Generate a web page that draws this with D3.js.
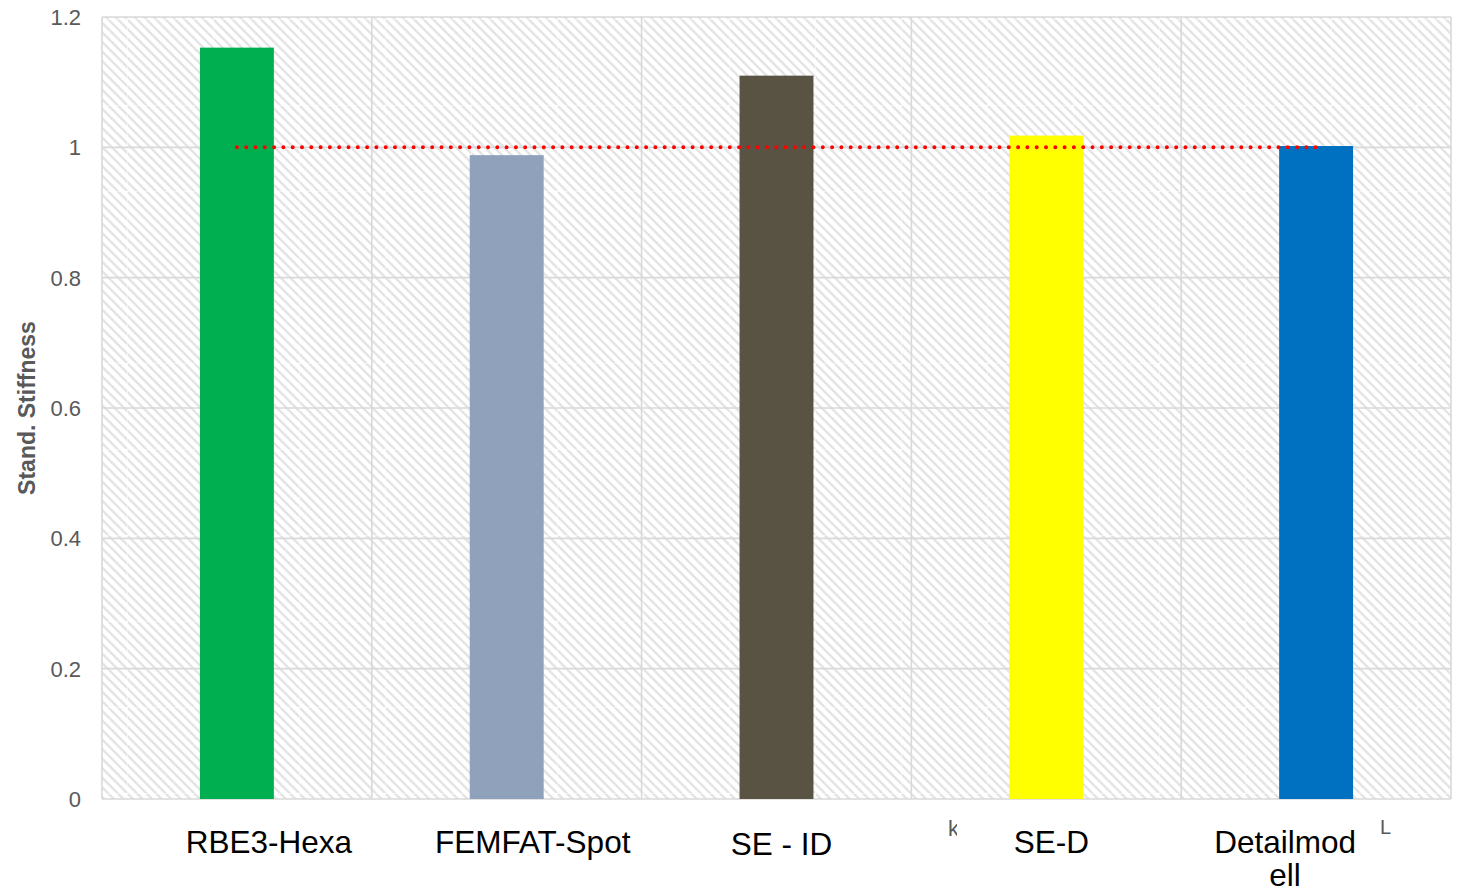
<!DOCTYPE html>
<html>
<head>
<meta charset="utf-8">
<script src="https://cdn.jsdelivr.net/npm/d3@7"></script>
<style>
  html, body { margin: 0; padding: 0; background: #ffffff; }
  svg { display: block; }
</style>
</head>
<body>
<svg id="chart" width="1461" height="893"></svg>
<script>
// Chart data
const categories = ["RBE3-Hexa", "FEMFAT-Spot", "SE - ID", "SE-D", "Detailmodell"];
const stiffness = [1.153, 0.988, 1.110, 1.018, 1.002];
const barColors = ["#00B050", "#8FA1BB", "#595343", "#FFFF00", "#0070C0"];
const referenceLevel = [1, 1, 1, 1, 1];
const yTicks = [0, 0.2, 0.4, 0.6, 0.8, 1, 1.2];
const yTickLabels = ["0", "0.2", "0.4", "0.6", "0.8", "1", "1.2"];
const yTitle = "Stand. Stiffness";

// Category labels: horizontal nudge and wrapped lines
const labelShift = [32, 26, 5, 5, -31];
const labelLines = [["RBE3-Hexa"], ["FEMFAT-Spot"], ["SE - ID"], ["SE-D"], ["Detailmod", "ell"]];
const labelDrop = [0, 0, 2, 0, 0];

const svg = d3.select("#chart");
const margin = { left: 102, right: 10, top: 17, bottom: 94 };
const W = 1461, H = 893;
const plotW = W - margin.left - margin.right;
const plotH = H - margin.top - margin.bottom;
const font = "'Liberation Sans', Arial, sans-serif";

const x = d3.scaleBand().domain(categories).range([0, plotW]).paddingInner(0.726).paddingOuter(0.363);
const band = d3.scaleBand().domain(categories).range([0, plotW]);
const y = d3.scaleLinear().domain([0, 1.2]).range([plotH, 0]);

// Diagonal hatch fill for the plot background
const defs = svg.append("defs");
const tile = 86, stripes = 9, step = tile / stripes;
const pat = defs.append("pattern")
  .attr("id", "hatch")
  .attr("patternUnits", "userSpaceOnUse")
  .attr("x", 25).attr("y", 2)
  .attr("width", tile).attr("height", tile);
pat.append("rect").attr("width", tile).attr("height", tile).attr("fill", "#ffffff");
let d = "";
for (let c = -tile; c <= tile; c += step) {
  d += `M${c - step},${-step}L${c + tile + step},${tile + step}`;
}
pat.append("path").attr("d", d).attr("stroke", "#e4e4e4").attr("stroke-width", 2.4).attr("fill", "none");
pat.append("rect").attr("x", 0).attr("y", 0).attr("width", tile).attr("height", 1).attr("fill", "#ffffff").attr("opacity", 0.5);
pat.append("rect").attr("x", 0).attr("y", 0).attr("width", 1).attr("height", tile).attr("fill", "#ffffff").attr("opacity", 0.5);

const g = svg.append("g").attr("transform", `translate(${margin.left},${margin.top})`);

g.append("rect")
  .attr("width", plotW).attr("height", plotH)
  .attr("fill", "url(#hatch)");

// Horizontal grid lines
g.append("g").selectAll("line").data(yTicks).join("line")
  .attr("x1", 0).attr("x2", plotW)
  .attr("y1", v => y(v)).attr("y2", v => y(v))
  .attr("stroke", "#d9d9d9").attr("stroke-width", 1.6);

// Vertical category dividers
const dividers = categories.map(c => band(c)).concat([plotW]);
g.append("g").selectAll("line").data(dividers).join("line")
  .attr("x1", v => v).attr("x2", v => v)
  .attr("y1", 0).attr("y2", plotH)
  .attr("stroke", "#d9d9d9").attr("stroke-width", 1.6);

// Bars
g.append("g").selectAll("rect").data(categories).join("rect")
  .attr("x", c => x(c))
  .attr("width", x.bandwidth())
  .attr("y", (c, i) => y(stiffness[i]))
  .attr("height", (c, i) => y(0) - y(stiffness[i]))
  .attr("fill", (c, i) => barColors[i]);

// Reference level (dotted red)
const line = d3.line()
  .x((v, i) => band(categories[i]) + band.bandwidth() / 2)
  .y(v => y(v));
g.append("path")
  .datum(referenceLevel)
  .attr("d", line)
  .attr("fill", "none")
  .attr("stroke", "#ff0000")
  .attr("stroke-width", 4)
  .attr("stroke-linecap", "round")
  .attr("stroke-dasharray", "0 9.3");

// Y axis tick labels
g.append("g").selectAll("text").data(yTicks).join("text")
  .attr("x", -21)
  .attr("y", v => y(v))
  .attr("dy", "0.36em")
  .attr("text-anchor", "end")
  .attr("font-family", font)
  .attr("font-size", 22)
  .attr("fill", "#595959")
  .text((v, i) => yTickLabels[i]);

// Y axis title
svg.append("text")
  .attr("transform", "translate(35,408) rotate(-90)")
  .attr("text-anchor", "middle")
  .attr("font-family", font)
  .attr("font-weight", "bold")
  .attr("font-size", 23)
  .attr("fill", "#595959")
  .text(yTitle);

// Category labels
const labels = svg.append("g")
  .attr("font-family", font)
  .attr("font-size", 31.5)
  .attr("fill", "#000000")
  .attr("text-anchor", "middle");
categories.forEach((c, i) => {
  const cx = margin.left + band(c) + band.bandwidth() / 2 + labelShift[i];
  const t = labels.append("text")
    .attr("x", cx)
    .attr("y", 853 + labelDrop[i]);
  labelLines[i].forEach((ln, k) => {
    t.append("tspan").attr("x", cx).attr("dy", k === 0 ? 0 : 33).text(ln);
  });
});

// Small stray glyphs beside the labels
defs.append("clipPath").attr("id", "kclip")
  .append("rect").attr("x", 940).attr("y", 810).attr("width", 17).attr("height", 30);
svg.append("text")
  .attr("x", 948).attr("y", 836)
  .attr("font-family", font).attr("font-size", 22)
  .attr("fill", "#595959")
  .attr("clip-path", "url(#kclip)")
  .text("k");
svg.append("text")
  .attr("x", 1380).attr("y", 834)
  .attr("font-family", font).attr("font-size", 20)
  .attr("fill", "#595959")
  .text("L");
</script>
</body>
</html>
